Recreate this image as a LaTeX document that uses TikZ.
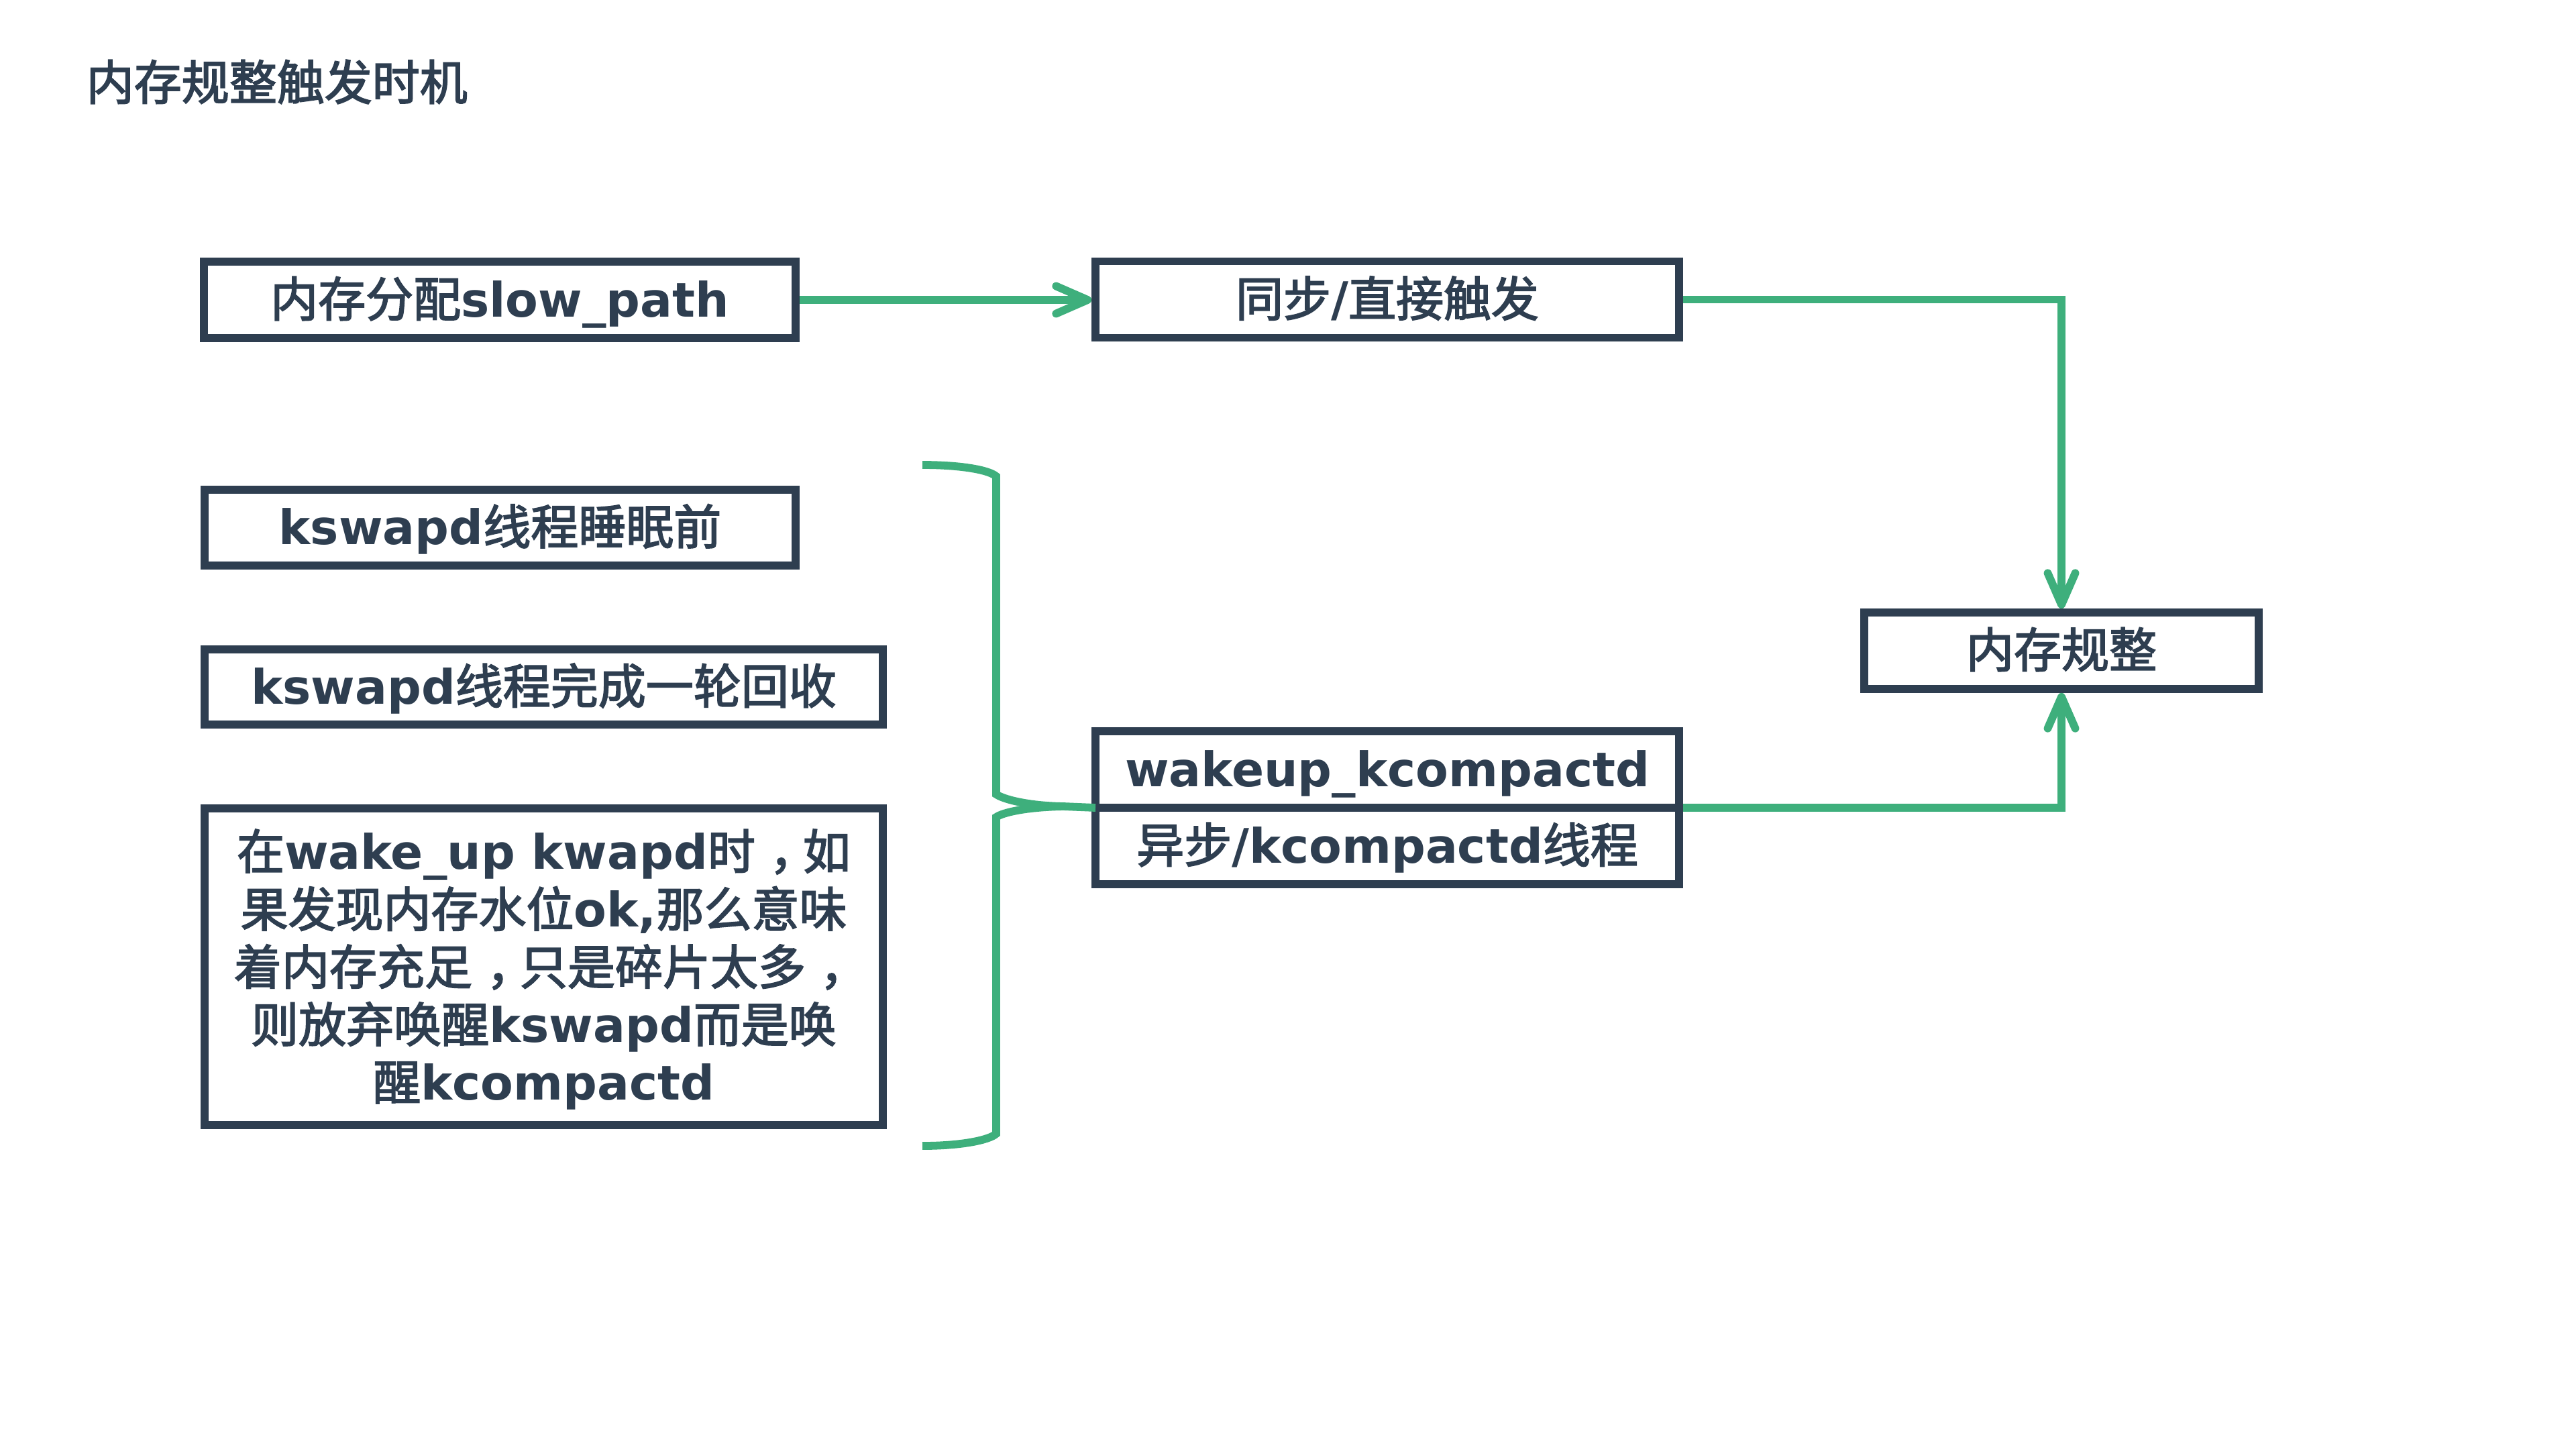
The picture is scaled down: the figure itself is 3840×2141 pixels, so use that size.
\documentclass[tikz,border=0pt]{standalone}
\usepackage{fontspec}
\usetikzlibrary{arrows.meta}
\setmainfont{DejaVu Sans}
\newfontfamily\cjkfam{Noto Sans CJK SC}[FakeBold=2.5]
\newcommand\cjk{\cjkfam\mdseries}
\newcommand\fwc{\makebox[1em][l]{\hspace{0.3em}{\cjk ，}}}
\newcommand\bodyfont{\fontsize{17.75pt}{21.5pt}\selectfont\bfseries}
\definecolor{dk}{HTML}{2E3E50}
\definecolor{gr}{HTML}{3EAF7C}
\tikzset{
  box/.style={draw=dk, line width=2.9pt, fill=white, inner sep=0pt, text=dk,
    font=\bodyfont, text height=12.5pt, text depth=0pt},
  bigbox/.style={draw=dk, line width=2.9pt, fill=white, inner sep=0pt, text=dk,
    font=\bodyfont, align=center},
  link/.style={draw=gr, line width=2.95pt},
  arr/.style={-{Straight Barb[length=11.75pt,width=10.25pt,round]}}
}
\begin{document}
\begin{tikzpicture}[x=0.25pt,y=-0.25pt]
\useasboundingbox (0,0) rectangle (3840,2141);
\fill[white] (0,0) rectangle (3840,2141);

\node[anchor=west, inner sep=0pt, text=dk, font=\bodyfont, text height=12.5pt, text depth=0pt] (title) at (128,124) {\cjk 内存规整触发时机};

\node[box, minimum width=220.5pt, minimum height=28.5pt] (alloc) at (745,447) {{\cjk 内存分配}slow\_path};
\node[box, minimum width=217.5pt, minimum height=28.5pt] (sync) at (2068,446.5) {{\cjk 同步}/{\cjk 直接触发}};
\node[box, minimum width=147pt, minimum height=28.5pt] (comp) at (3073,970) {\cjk 内存规整};

\node[box, minimum width=220.25pt, minimum height=28.25pt] (ks1) at (745.5,786.5) {kswapd{\cjk 线程睡眠前}};
\node[box, minimum width=252.75pt, minimum height=28pt] (ks2) at (810.5,1024) {kswapd{\cjk 线程完成一轮回收}};
\node[bigbox, minimum width=252.75pt, minimum height=118pt] (big) at (810.5,1441)
  {\rule{0pt}{17pt}{\cjk 在}wake\_up kwapd{\cjk 时}\fwc{\cjk 如}\\
   {\cjk 果发现内存水位}ok,{\cjk 那么意味}\\
   {\cjk 着内存充足}\fwc{\cjk 只是碎片太多}\fwc\\
   {\cjk 则放弃唤醒}kswapd{\cjk 而是唤}\\
   {\cjk 醒}kcompactd};

\node[box, outer sep=0pt, minimum width=217.5pt, minimum height=28.5pt] (wtop) at (2068,1147) {wakeup\_kcompactd};
\node[box, outer sep=0pt, minimum width=217.5pt, minimum height=28.5pt] (wbot) at (2068,1261) {{\cjk 异步}/kcompactd{\cjk 线程}};

% connectors
\draw[link, arr] (alloc.east) -- (alloc.east -| sync.west);
\draw[link, arr] (sync.east) -| (comp.north);
\draw[link, arr] ([xshift=1.45pt]wtop.south east) -| (comp.south);

% brace
\coordinate (bt) at (1375,693);
\coordinate (bb) at (1375,1708);
\coordinate (tip) at (1585,1202);
\draw[link] (bt) .. controls (1435,693) and (1475,701) .. (1485,710)
  -- (1485,1184) .. controls (1495,1191) and (1530,1201) .. (tip)
  -- (wtop.south west);
\draw[link] (tip) .. controls (1530,1203) and (1495,1211) .. (1485,1218)
  -- (1485,1690) .. controls (1475,1699) and (1435,1708) .. (bb);
\end{tikzpicture}
\end{document}
